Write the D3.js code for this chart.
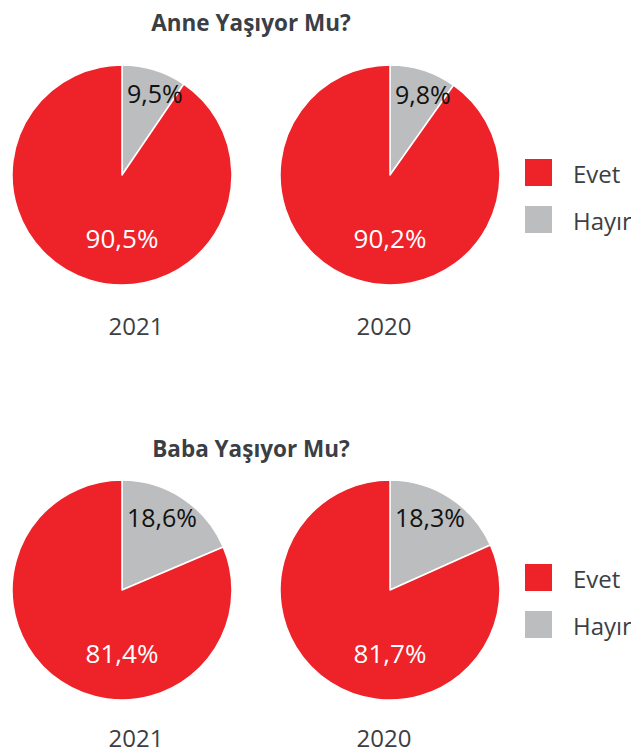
<!DOCTYPE html>
<html>
<head>
<meta charset="utf-8">
<script src="https://cdn.jsdelivr.net/npm/d3@7"></script>
<style>
  body { margin: 0; background: #fff; }
  svg { display: block; font-family: "Open Sans", sans-serif; }
</style>
</head>
<body>
<div id="chart"></div>
<script>
// data
const categories = ["Evet", "Hayır"];
const years = ["2021", "2020"];
const titles = ["Anne Yaşıyor Mu?", "Baba Yaşıyor Mu?"];
const anneEvet  = [90.5, 90.2];
const anneHayir = [9.5, 9.8];
const babaEvet  = [81.4, 81.7];
const babaHayir = [18.6, 18.3];

const colors = d3.scaleOrdinal().domain(categories).range(["#ee2229", "#bbbdbf"]);
const textDark = "#3b3f45";

const tr = d3.formatLocale({ decimal: ",", thousands: "." });
const fmt = v => tr.format(".1f")(v) + "%";

const W = 631, H = 756, R = 110;

const svg = d3.select("#chart").append("svg")
  .attr("width", W)
  .attr("height", H);

// pie centers by year
const xPie = d3.scaleOrdinal().domain(years).range([122, 390]);
const yearShift = { "2021": 14, "2020": -6 };

// panel layout (y positions)
const panels = [
  { title: titles[0], evet: anneEvet, hayir: anneHayir, titleY: 31, cy: 175, yearY: 335, legendY: 159 },
  { title: titles[1], evet: babaEvet, hayir: babaHayir, titleY: 457, cy: 590, yearY: 747, legendY: 564 }
];

const pie = d3.pie().sort(null).value(d => d.value);
const arc = d3.arc().innerRadius(0).outerRadius(R);

panels.forEach(p => {
  const g = svg.append("g");

  g.append("text")
    .attr("x", 251)
    .attr("y", p.titleY)
    .attr("text-anchor", "middle")
    .attr("font-size", 22.5)
    .attr("font-weight", 700)
    .attr("fill", textDark)
    .text(p.title);

  years.forEach((yr, i) => {
    const rows = [
      { cat: categories[0], value: p.evet[i] },
      { cat: categories[1], value: p.hayir[i] }
    ];
    // Hayır slice starts at 12 o'clock, clockwise
    const arcs = pie([rows[1], rows[0]]);
    const cx = xPie(yr);
    const pg = g.append("g").attr("transform", `translate(${cx},${p.cy})`);

    pg.selectAll("path")
      .data(arcs)
      .join("path")
      .attr("d", arc)
      .attr("fill", d => colors(d.data.cat))
      .attr("stroke", "#fff")
      .attr("stroke-width", 1.5)
      .attr("stroke-linejoin", "round");

    arcs.forEach(a => {
      if (a.data.cat === "Hayır") {
        const mid = (a.startAngle + a.endAngle) / 2;
        pg.append("text")
          .attr("x", 5)
          .attr("y", -75 * Math.cos(mid))
          .attr("font-size", 25)
          .attr("fill", "#111")
          .text(fmt(a.data.value));
      } else {
        pg.append("text")
          .attr("x", 0)
          .attr("y", 73)
          .attr("text-anchor", "middle")
          .attr("font-size", 26)
          .attr("fill", "#fff")
          .text(fmt(a.data.value));
      }
    });

    g.append("text")
      .attr("x", cx + yearShift[yr])
      .attr("y", p.yearY)
      .attr("text-anchor", "middle")
      .attr("font-size", 24)
      .attr("fill", textDark)
      .text(yr);
  });

  // legend
  const lg = g.append("g").attr("transform", `translate(525,${p.legendY})`);
  const item = lg.selectAll("g")
    .data(categories)
    .join("g")
    .attr("transform", (d, i) => `translate(0,${i * 47})`);
  item.append("rect")
    .attr("width", 27)
    .attr("height", 27)
    .attr("fill", d => colors(d));
  item.append("text")
    .attr("x", 48)
    .attr("y", 24)
    .attr("font-size", 24)
    .attr("fill", textDark)
    .text(d => d);
});
</script>
</body>
</html>
